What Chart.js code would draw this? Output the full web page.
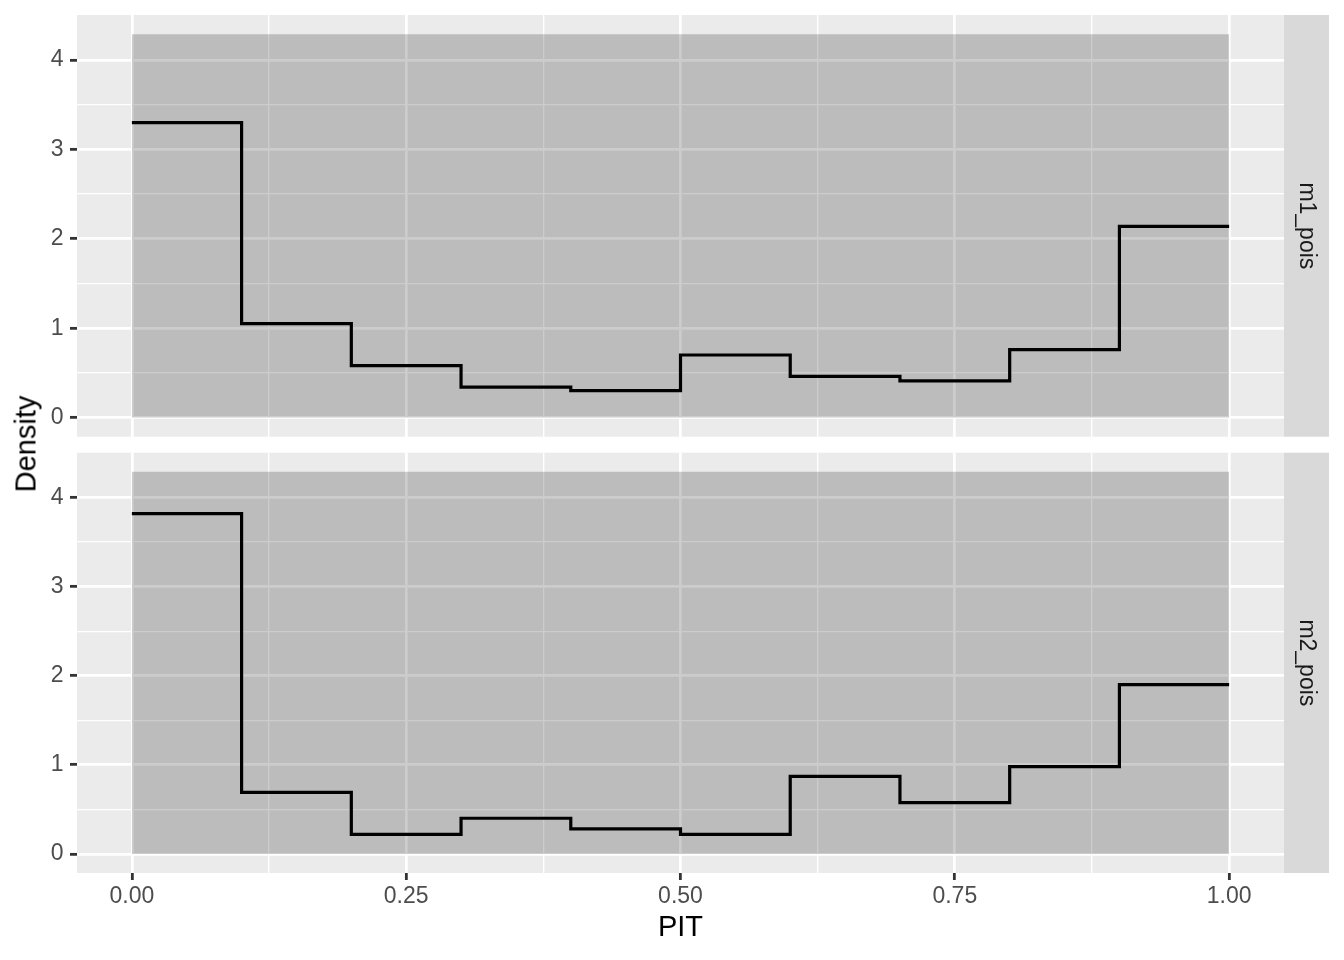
<!DOCTYPE html>
<html>
<head>
<title>PIT histograms</title>
<style>
body {
	margin: 0;
	background: white;
	font-family: "Liberation Sans", Arial, sans-serif;
}
#wrap {
	position: relative;
	width: 1344px;
	height: 960px;
}
canvas {
	position: absolute;
	left: 0;
	top: 0;
}
#ytitle {
	position: absolute;
	left: 26px;
	top: 444px;
	transform: translate(-50%, -50%) rotate(-90deg);
	font-size: 29px;
	line-height: 1;
	color: black;
	white-space: nowrap;
}
</style>
</head>
<body>
<div id="wrap">
	<canvas id="panel1" width="1344" height="960"></canvas>
	<canvas id="panel2" width="1344" height="960"></canvas>
	<div id="ytitle">Density</div>
</div>

<script src="https://cdn.jsdelivr.net/npm/chart.js@4.4.1/dist/chart.umd.min.js"></script>
<script>
// histogram breaks on PIT axis and the density of each bin
var pitBreaks = [0, 0.1, 0.2, 0.3, 0.4, 0.5, 0.6, 0.7, 0.8, 0.9, 1.0];
var m1Density = [3.30, 1.05, 0.58, 0.34, 0.30, 0.70, 0.46, 0.41, 0.76, 2.14];
var m2Density = [3.82, 0.69, 0.22, 0.40, 0.28, 0.22, 0.87, 0.575, 0.98, 1.90];
// grey band (uniform envelope) top
var bandTop = 4.29;
var panelNames = ['m1_pois', 'm2_pois'];

var xTicks = [0, 0.125, 0.25, 0.375, 0.5, 0.625, 0.75, 0.875, 1.0];
var xTickLabels = {0: '0.00', 0.25: '0.25', 0.5: '0.50', 0.75: '0.75', 1: '1.00'};
var yTicks = [0, 0.5, 1, 1.5, 2, 2.5, 3, 3.5, 4];
var yTickLabels = {0: '0', 1: '1', 2: '2', 3: '3', 4: '4'};

var FONT = '"Liberation Sans", Arial, sans-serif';

function stepPoints(vals) {
	var pts = [];
	for (var i = 0; i < pitBreaks.length; i++) {
		pts.push({x: pitBreaks[i], y: vals[Math.min(i, vals.length - 1)]});
	}
	return pts;
}

function isMajorX(v) { return xTickLabels[v] !== undefined; }
function isMajorY(v) { return yTickLabels[v] !== undefined; }

//panel background + strip on the right
var facetPlugin = {
	id: 'facet',
	beforeDraw: function(chart) {
		var a = chart.chartArea;
		var c = chart.ctx;
		c.save();
		c.fillStyle = '#EBEBEB';
		c.fillRect(a.left, a.top, a.right - a.left, a.bottom - a.top);
		c.restore();
	},
	afterDraw: function(chart) {
		var a = chart.chartArea;
		var c = chart.ctx;
		c.save();
		c.fillStyle = '#D9D9D9';
		c.fillRect(a.right, a.top, 45, a.bottom - a.top);
		c.translate(a.right + 22.5, (a.top + a.bottom) / 2);
		c.rotate(Math.PI / 2);
		c.fillStyle = '#1A1A1A';
		c.font = '23px ' + FONT;
		c.textAlign = 'center';
		c.textBaseline = 'middle';
		c.fillText(chart.options.plugins.facet.label, 0, 0);
		c.restore();
	}
};

function makePanel(id, vals, label, top, xAxisHeight, showX) {
	var ctx = document.getElementById(id).getContext('2d');
	return new Chart(ctx, {
		type: 'line',
		data: {
			datasets: [{
				data: stepPoints(vals),
				borderColor: '#000000',
				borderWidth: 3.2,
				stepped: 'before',
				pointRadius: 0,
				fill: false,
				borderCapStyle: 'butt',
				borderJoinStyle: 'miter'
			},
			{
				data: [{x: 0, y: bandTop}, {x: 1, y: bandTop}],
				borderWidth: 0,
				borderColor: 'rgba(0,0,0,0)',
				backgroundColor: 'rgba(0,0,0,0.2)',
				pointRadius: 0,
				fill: 'origin'
			}]
		},
		options: {
			responsive: false,
			animation: false,
			devicePixelRatio: 1,
			layout: {padding: {left: 0, right: 60, top: top, bottom: 0}},
			plugins: {
				legend: {display: false},
				tooltip: {enabled: false},
				facet: {label: label}
			},
			scales: {
				x: {
					type: 'linear',
					min: -0.05,
					max: 1.05,
					afterBuildTicks: function(s) {
						s.ticks = xTicks.map(function(v) { return {value: v}; });
					},
					afterFit: function(s) {
						s.height = xAxisHeight;
						s.paddingLeft = 0;
						s.paddingRight = 0;
					},
					border: {display: false},
					grid: {
						color: '#FFFFFF',
						lineWidth: function(c) { return isMajorX(c.tick.value) ? 2.7 : 1.35; },
						drawTicks: showX,
						tickLength: 7,
						tickWidth: 2.8,
						tickColor: function(c) { return isMajorX(c.tick.value) ? '#333333' : 'rgba(0,0,0,0)'; }
					},
					ticks: {
						display: showX,
						autoSkip: false,
						maxRotation: 0,
						padding: 3,
						color: '#4D4D4D',
						font: {family: FONT, size: 23},
						callback: function(v) { return isMajorX(v) ? xTickLabels[v] : ''; }
					},
					title: {
						display: showX,
						text: 'PIT',
						color: '#000000',
						font: {family: FONT, size: 29},
						padding: {top: 0, bottom: 15}
					}
				},
				y: {
					type: 'linear',
					min: -0.2145,
					max: 4.5045,
					afterBuildTicks: function(s) {
						s.ticks = yTicks.map(function(v) { return {value: v}; });
					},
					afterFit: function(s) {
						s.width = 77;
						s.paddingTop = 0;
						s.paddingBottom = 0;
					},
					border: {display: false},
					grid: {
						color: '#FFFFFF',
						lineWidth: function(c) { return isMajorY(c.tick.value) ? 2.7 : 1.35; },
						tickLength: 7,
						tickWidth: 2.8,
						tickColor: function(c) { return isMajorY(c.tick.value) ? '#333333' : 'rgba(0,0,0,0)'; }
					},
					ticks: {
						autoSkip: false,
						padding: 6.5,
						color: '#4D4D4D',
						font: {family: FONT, size: 23},
						callback: function(v) { return isMajorY(v) ? yTickLabels[v] : ''; }
					}
				}
			}
		},
		plugins: [facetPlugin]
	});
}

var chart1 = makePanel('panel1', m1Density, panelNames[0], 15, 960 - 436.7, false);
var chart2 = makePanel('panel2', m2Density, panelNames[1], 452.7, 87, true);
</script>
</body>
</html>
